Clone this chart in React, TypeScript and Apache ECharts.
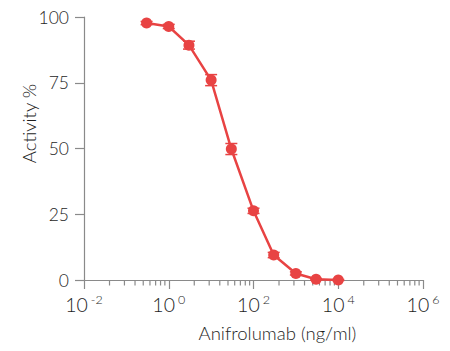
import React, { useEffect, useRef } from "react";
import * as echarts from "echarts";

// Data
const concentrations = [0.3, 1, 3, 10, 30, 100, 300, 1000, 3000, 10000]; // ng/ml
const activity = [97.7, 96.4, 89.3, 76.0, 49.8, 26.3, 9.5, 2.5, 0.3, 0]; // %
const errors = [0.6, 0.8, 1.5, 2.1, 2.1, 1.0, 1.0, 0.6, 0.3, 0.2];

// Axis decoration
const majorExponents = [-2, 0, 2, 4];
const minorMultipliers = [4, 9, 16, 25, 36, 49, 64, 81];

const RED = "#e84343";
const AXIS = "#8a8a8a";
const TEXT = "#1e1e1e";
const FONT = "Lato, 'Open Sans', sans-serif";
const WEIGHT = 300;

export default function App() {
  const ref = useRef<HTMLDivElement>(null);

  useEffect(() => {
    if (!ref.current) return;
    const chart = echarts.init(ref.current, undefined, { renderer: "svg" });

    const minorTicks: number[][] = [];
    majorExponents.forEach((e) =>
      minorMultipliers.forEach((m) => minorTicks.push([m * Math.pow(10, e), 0]))
    );

    const errData = concentrations.map((c, i) => [
      c,
      activity[i] - errors[i],
      activity[i] + errors[i],
    ]);

    chart.setOption({
      animation: false,
      grid: { left: 84, right: 27, top: 17, bottom: 71 },
      xAxis: {
        type: "log",
        logBase: 10,
        min: 0.01,
        max: 1e6,
        interval: 2,
        name: "Anifrolumab (ng/ml)",
        nameLocation: "middle",
        nameGap: 43,
        nameMoveOverlap: false,
        nameTextStyle: {
          fontFamily: FONT,
          fontWeight: WEIGHT,
          fontSize: 18.5,
          color: TEXT,
          padding: [0, 0, 0, 48],
        },
        axisLine: { show: true, lineStyle: { color: AXIS, width: 1.2 } },
        axisTick: { show: true, length: 9, lineStyle: { color: AXIS, width: 1.2 } },
        minorTick: { show: false },
        splitLine: { show: false },
        axisLabel: {
          margin: 13,
          fontFamily: FONT,
          color: TEXT,
          formatter: (v: number) => {
            const e = Math.round(Math.log10(v));
            return `{b|10}{s|${e}}`;
          },
          rich: {
            b: { fontFamily: FONT, fontWeight: WEIGHT, fontSize: 19.5, color: TEXT, lineHeight: 22 },
            s: {
              fontFamily: FONT,
              fontWeight: WEIGHT,
              fontSize: 12.5,
              color: TEXT,
              verticalAlign: "top",
              lineHeight: 11,
              padding: [0, 0, 0, 3],
            },
          },
        },
      },
      yAxis: {
        type: "value",
        min: 0,
        max: 100,
        interval: 25,
        name: "Activity %",
        nameLocation: "middle",
        nameGap: 46,
        nameMoveOverlap: false,
        nameTextStyle: {
          fontFamily: FONT,
          fontWeight: WEIGHT,
          fontSize: 18.5,
          color: TEXT,
          padding: [0, 0, 0, 50],
        },
        axisLine: { show: true, lineStyle: { color: AXIS, width: 1.2 } },
        axisTick: { show: true, length: 9, lineStyle: { color: AXIS, width: 1.2 } },
        splitLine: { show: false },
        axisLabel: {
          margin: 15,
          fontFamily: FONT,
          fontWeight: WEIGHT,
          fontSize: 17.5,
          color: TEXT,
        },
      },
      series: [
        {
          type: "custom",
          silent: true,
          z: 1,
          data: minorTicks,
          renderItem: (params: any, api: any) => {
            const p = api.coord([api.value(0), 0]);
            return {
              type: "line",
              shape: { x1: p[0], y1: p[1], x2: p[0], y2: p[1] + 5.5 },
              style: { stroke: AXIS, lineWidth: 1.2 },
            };
          },
        },
        {
          type: "custom",
          silent: true,
          z: 3,
          data: errData,
          renderItem: (params: any, api: any) => {
            const x = api.value(0);
            const lo = api.coord([x, api.value(1)]);
            const hi = api.coord([x, api.value(2)]);
            const w = 6;
            const style = { stroke: RED, lineWidth: 1.5 };
            return {
              type: "group",
              children: [
                { type: "line", shape: { x1: lo[0], y1: lo[1], x2: hi[0], y2: hi[1] }, style },
                { type: "line", shape: { x1: lo[0] - w, y1: lo[1], x2: lo[0] + w, y2: lo[1] }, style },
                { type: "line", shape: { x1: hi[0] - w, y1: hi[1], x2: hi[0] + w, y2: hi[1] }, style },
              ],
            };
          },
        },
        {
          type: "line",
          z: 4,
          data: concentrations.map((c, i) => [c, activity[i]]),
          symbol: "circle",
          symbolSize: 11,
          lineStyle: { color: RED, width: 2.5 },
          itemStyle: { color: RED },
          clip: false,
        },
      ],
    });

    return () => chart.dispose();
  }, []);

  return <div ref={ref} style={{ width: 450, height: 351, margin: -8 }} />;
}
